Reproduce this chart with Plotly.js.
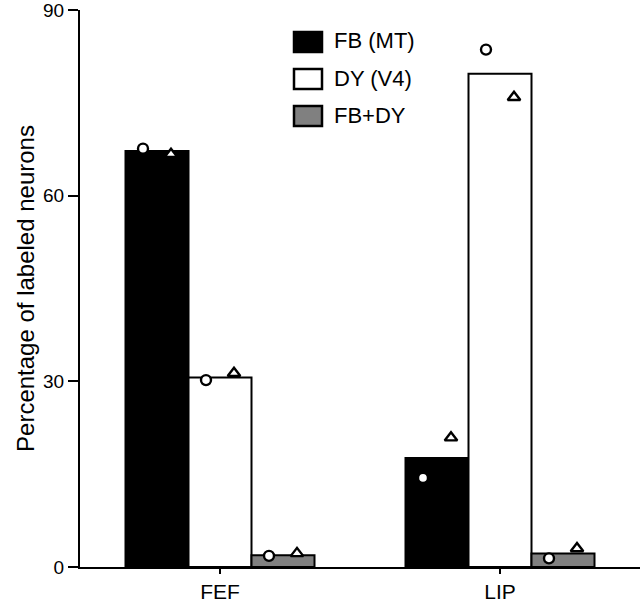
<!DOCTYPE html>
<html>
<head>
<meta charset="utf-8">
<script src="https://cdn.plot.ly/plotly-3.0.1.min.js"></script>
<style>html,body{margin:0;padding:0;background:#fff;}#chart{width:640px;height:603px;}</style>
</head>
<body>
<div id="chart"></div>
<script>
// ---- data ----
const categories = ["FEF", "LIP"];
const seriesNames = ["FB (MT)", "DY (V4)", "FB+DY"];
const barFB   = [67.2, 17.6];
const barDY   = [30.6, 79.7];
const barBoth = [1.9, 2.2];
// individual animals: circles and triangles
const circFB   = [67.6, 14.4];
const circDY   = [30.2, 83.6];
const circBoth = [1.8, 1.4];
const triFB    = [66.7, 20.9];
const triDY    = [31.3, 75.9];
const triBoth  = [2.2, 3.0];
const yTicks = [0, 30, 60, 90];

// ---- layout constants ----
const barW = 0.225;
const offsets = [-barW, 0, barW];
const ptOff = 0.05;
const fills = ["#000000", "#ffffff", "#808080"];
const barVals = [barFB, barDY, barBoth];
const circVals = [circFB, circDY, circBoth];
const triVals = [triFB, triDY, triBoth];
const catIdx = categories.map((c, i) => i);
const FONT = "Liberation Sans, Arial, Helvetica, sans-serif";

const traces = [];
barVals.forEach((vals, j) => {
  traces.push({
    type: "bar",
    name: seriesNames[j],
    x: catIdx.map(i => i + offsets[j]),
    y: vals,
    width: barW,
    marker: {color: fills[j], line: {color: "#000", width: 2}},
    showlegend: false,
    hoverinfo: "y"
  });
});
circVals.forEach((vals, j) => {
  traces.push({
    type: "scatter", mode: "markers",
    x: catIdx.map(i => i + offsets[j] - ptOff),
    y: vals,
    marker: {symbol: "circle", size: 10, color: "#fff", line: {color: "#000", width: 2.4}},
    showlegend: false, hoverinfo: "y"
  });
});
triVals.forEach((vals, j) => {
  traces.push({
    type: "scatter", mode: "markers",
    x: catIdx.map(i => i + offsets[j] + ptOff),
    y: vals,
    marker: {symbol: "triangle-up", size: 11, color: "#fff", line: {color: "#000", width: 2.4}},
    showlegend: false, hoverinfo: "y"
  });
});

// custom legend (paper coords; plot area 80..640 x 10..567 px)
const plotL = 80, plotT = 10, plotW = 560, plotH = 557;
const px = x => (x - plotL) / plotW;
const py = y => (plotT + plotH - y) / plotH;
const legendCentersY = [42, 79, 116];
const shapes = [];
const annotations = [];
seriesNames.forEach((name, j) => {
  const cy = legendCentersY[j];
  shapes.push({
    type: "rect", xref: "paper", yref: "paper",
    x0: px(294), x1: px(322), y0: py(cy + 10), y1: py(cy - 10),
    fillcolor: fills[j], line: {color: "#000", width: 2.5}
  });
  annotations.push({
    xref: "paper", yref: "paper", x: px(332), y: py(cy - 1),
    xanchor: "left", yanchor: "middle", showarrow: false,
    text: name, font: {family: FONT, size: 22, color: "#000"}
  });
});

const layout = {
  width: 640, height: 603,
  margin: {l: plotL, r: 0, t: plotT, b: 603 - plotT - plotH},
  paper_bgcolor: "#fff", plot_bgcolor: "#fff",
  font: {family: FONT, color: "#000"},
  xaxis: {
    range: [-0.5, 1.5],
    tickmode: "array", tickvals: catIdx, ticktext: categories,
    showline: true, linecolor: "#000", linewidth: 2,
    ticks: "outside", ticklen: 5, tickwidth: 2, tickcolor: "#000",
    showgrid: false, zeroline: false,
    tickfont: {family: FONT, size: 21, color: "#000"}, fixedrange: true,
    ticklabeloverflow: "allow"
  },
  yaxis: {
    range: [0, 90],
    tickmode: "array", tickvals: yTicks, ticktext: yTicks.map(String),
    showline: true, linecolor: "#000", linewidth: 2,
    ticks: "outside", ticklen: 10, tickwidth: 2, tickcolor: "#000",
    showgrid: false, zeroline: false,
    tickfont: {family: FONT, size: 19, color: "#000"},
    ticklabeloverflow: "allow",
    title: {text: "Percentage of labeled neurons", font: {family: FONT, size: 24, color: "#000"}, standoff: 2},
    fixedrange: true
  },
  shapes: shapes,
  annotations: annotations,
  bargap: 0
};

Plotly.newPlot("chart", traces, layout, {displayModeBar: false, staticPlot: true});
</script>
</body>
</html>
